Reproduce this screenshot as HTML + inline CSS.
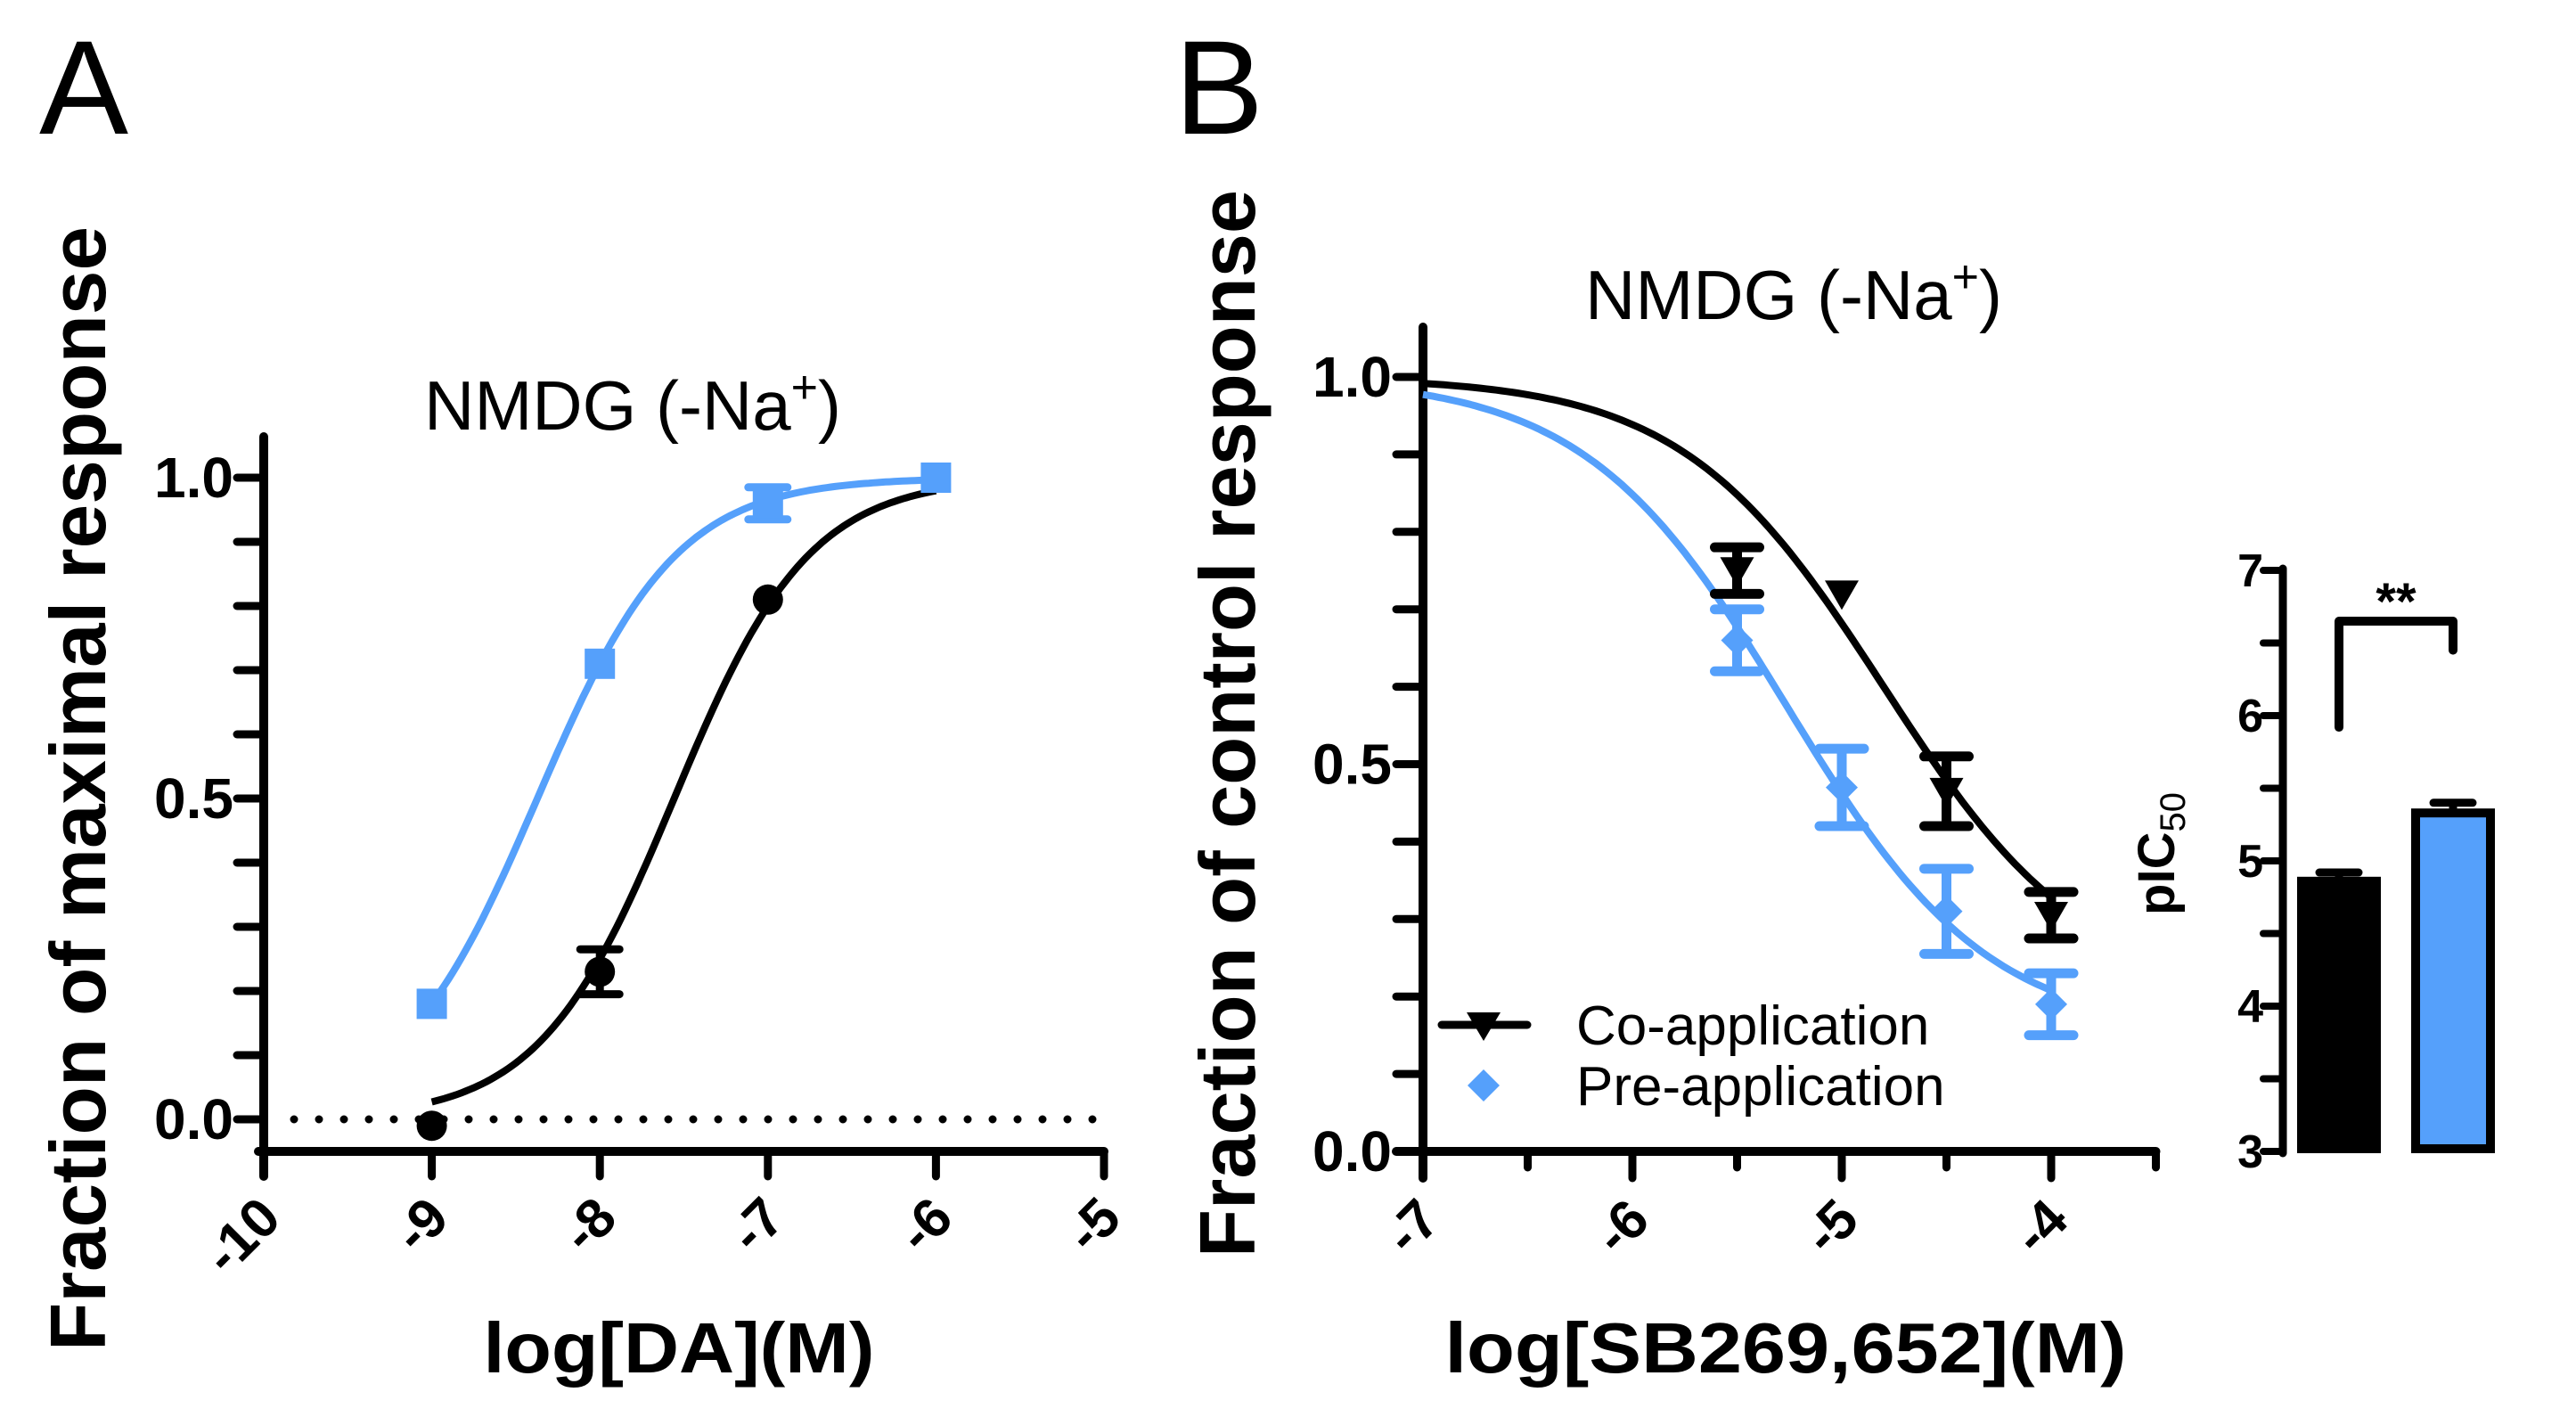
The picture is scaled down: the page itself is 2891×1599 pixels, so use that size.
<!DOCTYPE html>
<html><head><meta charset="utf-8"><style>
html,body{margin:0;padding:0;background:#fff;}
svg{display:block;font-family:"Liberation Sans",Arial,sans-serif;}
</style></head><body>
<svg id="fig" width="2891" height="1599" viewBox="0 0 2891 1599" xmlns="http://www.w3.org/2000/svg">
<g id="gA"></g>
<g id="gB"></g>
<g id="gC"></g>
</svg>
<script>
// ---- Panel A data ----
const aXTicks = [-10, -9, -8, -7, -6, -5];
const aYTicksMajor = [0.0, 0.5, 1.0];
const aYTickLabels = ["0.0", "0.5", "1.0"];
const aBlackX = [-9, -8, -7];
const aBlackY = [-0.01, 0.23, 0.81];
const aBlackErr = [0, 0.035, 0];
const aBlueX = [-9, -8, -7, -6];
const aBlueY = [0.18, 0.71, 0.96, 1.0];
const aBlueErr = [0, 0, 0.025, 0];
const aBlackFit = [-7.558, 1.079]; // logEC50, hill
const aBlueFit = [-8.372, 1.047];
// ---- Panel B data ----
const bXTicks = [-7, -6, -5, -4];
const bYTickLabels = ["0.0", "0.5", "1.0"];
const bYTicksMajor = [0.0, 0.5, 1.0];
const coX = [-5.5, -5.0, -4.5, -4.0];
const coY = [0.75, 0.72, 0.465, 0.305];
const coErr = [0.03, 0, 0.045, 0.03];
const preX = [-5.5, -5.0, -4.5, -4.0];
const preY = [0.66, 0.47, 0.31, 0.19];
const preErr = [0.04, 0.05, 0.055, 0.04];
const coFit = [-4.8, 0.9, 0.2]; // logIC50, hill, bottom
const preFit = [-5.263, 0.9, 0.15];
// ---- Bar chart data ----
const barLabels = ["Co-application", "Pre-application"];
const barValues = [4.86, 5.33];
const barErrs = [0.06, 0.07];
const barYTicks = [3, 4, 5, 6, 7];

const NS = "http://www.w3.org/2000/svg";
function mk(parent, tag, attrs, text) {
  const e = document.createElementNS(NS, tag);
  for (const k in attrs) e.setAttribute(k, attrs[k]);
  if (text !== undefined) e.textContent = text;
  parent.appendChild(e);
  return e;
}
const BLUE = "#55a0fb";

// ================= Panel A =================
const gA = document.getElementById("gA");
const axA = v => 296 + (v + 10) * 188.6;
const ayA = v => 1256 - v * 720;
{
  let t = mk(gA, "text", {x: 44, y: 150, "font-size": 150}, "A");
  
  
  t = mk(gA, "text", {x: 710, y: 482, "font-size": 78, "text-anchor": "middle"});
  
  
  t.innerHTML = 'NMDG (-Na<tspan dy="-30" font-size="52">+</tspan><tspan dy="30">)</tspan>';
  let d = mk(gA, "line", {x1: 330, y1: ayA(0), x2: 1235, y2: ayA(0), stroke: "#000", "stroke-width": 9, "stroke-dasharray": "0 28", "stroke-linecap": "round"});
  
  
  let ya = mk(gA, "line", {x1: 296, y1: 490, x2: 296, y2: 1320, stroke: "#000", "stroke-width": 10, "stroke-linecap": "round"});
  
  
  let xa = mk(gA, "line", {x1: 290, y1: 1292, x2: axA(-5), y2: 1292, stroke: "#000", "stroke-width": 10, "stroke-linecap": "round"});
  
  
  for (let i = 0; i <= 10; i++) {
    const v = i / 10;
    const tk = mk(gA, "line", {x1: 266, y1: ayA(v), x2: 296, y2: ayA(v), stroke: "#000", "stroke-width": 9, "stroke-linecap": "round"});
    
    
  }
  aYTicksMajor.forEach((v, i) => {
    const l = mk(gA, "text", {x: 262, y: ayA(v) + 22, "font-size": 64, "font-weight": "bold", "text-anchor": "end"}, aYTickLabels[i]);
    
    
  });
  aXTicks.forEach(v => {
    const tk = mk(gA, "line", {x1: axA(v), y1: 1292, x2: axA(v), y2: 1320, stroke: "#000", "stroke-width": 9, "stroke-linecap": "round"});
    
    
    const l = mk(gA, "text", {x: axA(v) + 22, y: 1370, "font-size": 62, "font-weight": "bold", "text-anchor": "end", transform: `rotate(-45 ${axA(v) + 22} 1370)`}, String(v));
    
    
  });
  let yt = mk(gA, "text", {x: 0, y: 0, "font-size": 88, "font-weight": "bold", "text-anchor": "middle", textLength: 1262, lengthAdjust: "spacingAndGlyphs", transform: "translate(118 885) rotate(-90)"}, "Fraction of maximal response");
  
  
  let xt = mk(gA, "text", {x: 762, y: 1540, "font-size": 80, "font-weight": "bold", "text-anchor": "middle", textLength: 439, lengthAdjust: "spacingAndGlyphs"}, "log[DA](M)");
  
  

  function curveA(fit, color, name) {
    let p = "";
    for (let i = 0; i <= 120; i++) {
      const x = -9 + 3 * i / 120;
      const y = 1 / (1 + Math.pow(10, fit[1] * (fit[0] - x)));
      p += (i ? "L" : "M") + axA(x).toFixed(1) + " " + ayA(y).toFixed(1);
    }
    const c = mk(gA, "path", {d: p, fill: "none", stroke: color, "stroke-width": 8});
    
    
  }
  curveA(aBlueFit, BLUE, "blue-fit-curve");
  curveA(aBlackFit, "#000", "black-fit-curve");
  function errA(x, y, e, color) {
    if (!e) return;
    const g = mk(gA, "path", {d: `M${axA(x)} ${ayA(y + e)}V${ayA(y - e)}M${axA(x) - 22} ${ayA(y + e)}h44M${axA(x) - 22} ${ayA(y - e)}h44`, stroke: color, "stroke-width": 9, "stroke-linecap": "round", fill: "none"});
    
    
  }
  aBlueX.forEach((x, i) => {
    errA(x, aBlueY[i], aBlueErr[i], BLUE);
    const s = mk(gA, "rect", {x: axA(x) - 17, y: ayA(aBlueY[i]) - 17, width: 34, height: 34, fill: BLUE});
    
    
  });
  aBlackX.forEach((x, i) => {
    errA(x, aBlackY[i], aBlackErr[i], "#000");
    const s = mk(gA, "circle", {cx: axA(x), cy: ayA(aBlackY[i]), r: 17, fill: "#000"});
    
    
  });
}

// ================= Panel B =================
const gB = document.getElementById("gB");
const axB = v => 1597 + (v + 7) * 235;
const ayB = v => 1292 - v * 869;
{
  let t = mk(gB, "text", {x: 1318, y: 150, "font-size": 150}, "B");
  
  
  t = mk(gB, "text", {x: 2013, y: 358, "font-size": 78, "text-anchor": "middle"});
  
  
  t.innerHTML = 'NMDG (-Na<tspan dy="-30" font-size="52">+</tspan><tspan dy="30">)</tspan>';
  let ya = mk(gB, "line", {x1: 1597, y1: 367, x2: 1597, y2: 1322, stroke: "#000", "stroke-width": 10, "stroke-linecap": "round"});
  
  
  let xa = mk(gB, "line", {x1: 1567, y1: 1292, x2: axB(-3.5), y2: 1292, stroke: "#000", "stroke-width": 10, "stroke-linecap": "round"});
  
  
  for (let i = 0; i <= 10; i++) {
    const v = i / 10;
    const tk = mk(gB, "line", {x1: 1567, y1: ayB(v), x2: 1597, y2: ayB(v), stroke: "#000", "stroke-width": 9, "stroke-linecap": "round"});
    
    
  }
  bYTicksMajor.forEach((v, i) => {
    const l = mk(gB, "text", {x: 1562, y: ayB(v) + 22, "font-size": 64, "font-weight": "bold", "text-anchor": "end"}, bYTickLabels[i]);
    
    
  });
  for (let i = 0; i <= 7; i++) {
    const v = -7 + i * 0.5;
    const major = i % 2 === 0;
    const tk = mk(gB, "line", {x1: axB(v), y1: 1292, x2: axB(v), y2: major ? 1322 : 1310, stroke: "#000", "stroke-width": 9, "stroke-linecap": "round"});
    
    
  }
  bXTicks.forEach(v => {
    const l = mk(gB, "text", {x: axB(v) + 22, y: 1372, "font-size": 62, "font-weight": "bold", "text-anchor": "end", transform: `rotate(-45 ${axB(v) + 22} 1372)`}, String(v));
    
    
  });
  let yt = mk(gB, "text", {x: 0, y: 0, "font-size": 88, "font-weight": "bold", "text-anchor": "middle", textLength: 1198, lengthAdjust: "spacingAndGlyphs", transform: "translate(1408 812) rotate(-90)"}, "Fraction of control response");
  
  
  let xt = mk(gB, "text", {x: 2004, y: 1540, "font-size": 80, "font-weight": "bold", "text-anchor": "middle", textLength: 765, lengthAdjust: "spacingAndGlyphs"}, "log[SB269,652](M)");
  
  

  function curveB(fit, color, name) {
    let p = "";
    for (let i = 0; i <= 120; i++) {
      const x = -7 + 3 * i / 120;
      const y = fit[2] + (1 - fit[2]) / (1 + Math.pow(10, fit[1] * (x - fit[0])));
      p += (i ? "L" : "M") + axB(x).toFixed(1) + " " + ayB(y).toFixed(1);
    }
    const c = mk(gB, "path", {d: p, fill: "none", stroke: color, "stroke-width": 8});
    
    
  }
  curveB(preFit, BLUE, "pre-application-fit-curve");
  curveB(coFit, "#000", "co-application-fit-curve");
  function errB(x, y, e, color) {
    if (!e) return;
    const g = mk(gB, "path", {d: `M${axB(x)} ${ayB(y + e)}V${ayB(y - e)}M${axB(x) - 25} ${ayB(y + e)}h50M${axB(x) - 25} ${ayB(y - e)}h50`, stroke: color, "stroke-width": 11, "stroke-linecap": "round", fill: "none"});
    
    
  }
  preX.forEach((x, i) => {
    errB(x, preY[i], preErr[i], BLUE);
    const cx = axB(x), cy = ayB(preY[i]);
    const s = mk(gB, "polygon", {points: `${cx},${cy - 18} ${cx + 18},${cy} ${cx},${cy + 18} ${cx - 18},${cy}`, fill: BLUE});
    
    
  });
  coX.forEach((x, i) => {
    errB(x, coY[i], coErr[i], "#000");
    const cx = axB(x), cy = ayB(coY[i]);
    const s = mk(gB, "polygon", {points: `${cx - 19},${cy - 15} ${cx + 19},${cy - 15} ${cx},${cy + 18}`, fill: "#000"});
    
    
  });
  let ll = mk(gB, "line", {x1: 1618, y1: 1150, x2: 1714, y2: 1150, stroke: "#000", "stroke-width": 9, "stroke-linecap": "round"});
  
  
  let lm = mk(gB, "polygon", {points: "1646,1136 1684,1136 1665,1168", fill: "#000"});
  
  
  let lt = mk(gB, "text", {x: 1769, y: 1172, "font-size": 62}, "Co-application");
  
  
  let pm = mk(gB, "polygon", {points: "1665,1200 1683,1218 1665,1236 1647,1218", fill: BLUE});
  
  
  let pt = mk(gB, "text", {x: 1769, y: 1240, "font-size": 62}, "Pre-application");
  
  
}

// ================= Bar chart =================
const gC = document.getElementById("gC");
const ayC = v => 1292 - (v - 3) * 163;
{
  let ya = mk(gC, "line", {x1: 2562, y1: ayC(7) - 2, x2: 2562, y2: 1294, stroke: "#000", "stroke-width": 9, "stroke-linecap": "round"});
  
  
  for (let i = 0; i <= 8; i++) {
    const v = 3 + i * 0.5;
    const tk = mk(gC, "line", {x1: 2540, y1: ayC(v), x2: 2562, y2: ayC(v), stroke: "#000", "stroke-width": 8, "stroke-linecap": "round"});
    
    
  }
  barYTicks.forEach(v => {
    const l = mk(gC, "text", {x: 2540, y: ayC(v) + 18, "font-size": 52, "font-weight": "bold", "text-anchor": "end"}, String(v));
    
    
  });
  let yt = mk(gC, "text", {x: 0, y: 0, "font-size": 58, "font-weight": "bold", "text-anchor": "middle", transform: "translate(2440 958) rotate(-90)"});
  
  
  yt.innerHTML = 'pIC<tspan font-size="40" font-weight="normal" dy="12">50</tspan>';
  const barX = [2578, 2706];
  const bw = 94;
  barValues.forEach((v, i) => {
    const x = barX[i];
    const cx = x + bw / 2;
    const e = mk(gC, "path", {d: `M${cx} ${ayC(v)}V${ayC(v + barErrs[i])}M${cx - 22} ${ayC(v + barErrs[i])}h44`, stroke: "#000", "stroke-width": 9, "stroke-linecap": "round", fill: "none"});
    
    
    const r = mk(gC, "rect", {x: x + 5, y: ayC(v), width: bw - 10, height: 1292 - ayC(v) - 3, fill: i === 0 ? "#000" : BLUE, stroke: "#000", "stroke-width": 10});
    
    
  });
  const b1 = barX[0] + bw / 2, b2 = barX[1] + bw / 2;
  const br = mk(gC, "path", {d: `M${b1} ${ayC(5.92)}V${ayC(6.65)}H${b2}V${ayC(6.45)}`, stroke: "#000", "stroke-width": 10, "stroke-linecap": "round", "stroke-linejoin": "round", fill: "none"});
  
  
  const st = mk(gC, "text", {x: (b1 + b2) / 2, y: ayC(6.65) - 2, "font-size": 58, "font-weight": "bold", "text-anchor": "middle"}, "**");
  
  
}
</script>
</body></html>
